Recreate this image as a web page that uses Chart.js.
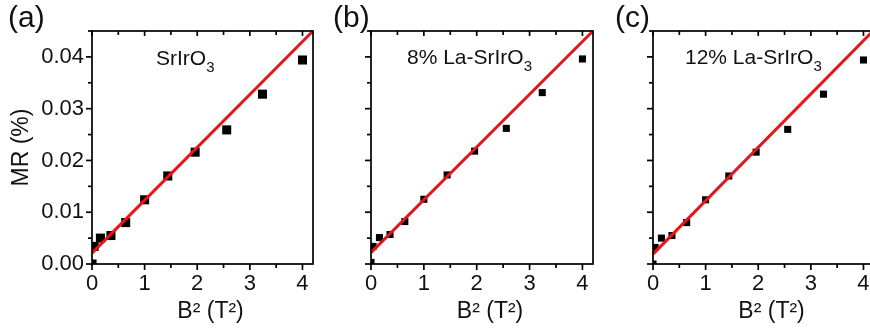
<!DOCTYPE html>
<html>
<head>
<meta charset="utf-8">
<script src="https://cdn.jsdelivr.net/npm/chart.js@4.4.1/dist/chart.umd.min.js"></script>
<style>
html,body{margin:0;padding:0;background:#fff;width:870px;height:332px;overflow:hidden;}
body{position:relative;font-family:"Liberation Sans",Arial,sans-serif;color:#111;}
.panel{position:absolute;top:0;height:332px;}
.lbl{position:absolute;font-size:30px;line-height:30px;white-space:nowrap;}
.ann{position:absolute;font-size:21px;line-height:21px;white-space:nowrap;}
.ann sub{font-size:15px;vertical-align:-7px;line-height:0;}
</style>
</head>
<body>
<div class="panel" style="left:0;width:330px"><canvas id="ca"></canvas></div>
<div class="panel" style="left:330px;width:280px"><canvas id="cb"></canvas></div>
<div class="panel" style="left:610px;width:281px"><canvas id="cc"></canvas></div>
<div class="lbl" style="left:8px;top:2px">(a)</div>
<div class="lbl" style="left:333px;top:2px">(b)</div>
<div class="lbl" style="left:615px;top:2px">(c)</div>
<div class="ann" style="left:156px;top:47px">SrIrO<sub>3</sub></div>
<div class="ann" style="left:407px;top:46px">8% La-SrIrO<sub>3</sub></div>
<div class="ann" style="left:685px;top:46px">12% La-SrIrO<sub>3</sub></div>
<script>
// ---- data ----
const xB2 = [0, 0.04, 0.16, 0.36, 0.64, 1.0, 1.44, 1.96, 2.56, 3.24, 4.0];
const mrA = [0.0000, 0.0034, 0.0050, 0.0055, 0.0080, 0.0124, 0.0170, 0.0216, 0.0259, 0.0328, 0.0394];
const mrB = [0.0003, 0.0034, 0.0051, 0.0057, 0.0082, 0.0125, 0.0172, 0.0218, 0.0262, 0.0331, 0.0396];
const mrC = [0.0000, 0.0032, 0.0050, 0.0055, 0.0080, 0.0124, 0.0170, 0.0216, 0.0260, 0.0328, 0.0394];
const fitX = [0, 4.2];
const fitA = [0.0021, 0.0450];
const fitB = [0.0022, 0.0450];
const fitC = [0.0019, 0.0452];
const xTicks = [0, 1, 2, 3, 4];
const xTickLabels = ['0', '1', '2', '3', '4'];
const yTicks = [0, 0.01, 0.02, 0.03, 0.04];
const yTickLabels = ['0.00', '0.01', '0.02', '0.03', '0.04'];
const xTitle = '\u2002\u2009B\u00B2 (T\u00B2)';
const yTitle = 'MR (%)';

const FONT = '"Liberation Sans", Arial, sans-serif';
const INK = '#111';

function midpoints(arr, max) {
  const out = [];
  for (let i = 0; i < arr.length; i++) {
    const step = i < arr.length - 1 ? arr[i + 1] - arr[i] : arr[i] - arr[i - 1];
    const m = arr[i] + step / 2;
    if (m <= max + 1e-9) out.push(m);
  }
  return out;
}

const framePlugin = {
  id: 'frame',
  afterDraw(chart) {
    const {ctx, chartArea: {left, right, top, bottom}, scales: {x, y}} = chart;
    ctx.save();
    ctx.strokeStyle = '#000';
    ctx.lineWidth = 1.7;
    ctx.lineCap = 'butt';
    const seg = (x1, y1, x2, y2) => { ctx.beginPath(); ctx.moveTo(x1, y1); ctx.lineTo(x2, y2); ctx.stroke(); };
    ctx.strokeRect(left, top, right - left, bottom - top);
    xTicks.forEach(v => { const p = x.getPixelForValue(v); seg(p, bottom, p, bottom + 6); seg(p, top, p, top + 5); });
    midpoints(xTicks, x.max).forEach(v => { const p = x.getPixelForValue(v); seg(p, bottom, p, bottom + 4); seg(p, top, p, top + 4); });
    yTicks.forEach(v => { const p = y.getPixelForValue(v); seg(left - 6, p, left, p); });
    midpoints(yTicks, y.max).forEach(v => { const p = y.getPixelForValue(v); seg(left - 4, p, left, p); });
    ctx.restore();
  }
};

function makeChart(id, mr, fit, showY, yWidth, ptR) {
  const pts = xB2.map((v, i) => ({x: v, y: mr[i]}));
  const line = fitX.map((v, i) => ({x: v, y: fit[i]}));
  return new Chart(document.getElementById(id), {
    type: 'scatter',
    data: {
      datasets: [
        {data: line, showLine: true, borderColor: '#e3161c', borderWidth: 3, pointRadius: 0, order: 0, clip: 2},
        {data: pts, pointStyle: 'rect', pointRadius: ptR, backgroundColor: '#000', borderColor: '#000', borderWidth: 0, order: 1, clip: 0}
      ]
    },
    options: {
      responsive: true,
      maintainAspectRatio: false,
      animation: false,
      events: [],
      layout: {padding: {top: 31, right: 17, left: 0, bottom: 0}},
      plugins: {legend: {display: false}, tooltip: {enabled: false}},
      scales: {
        x: {
          type: 'linear', min: 0, max: 4.2,
          afterBuildTicks: s => { s.ticks = xTicks.map(v => ({value: v})); },
          afterFit: s => { s.height = 68; },
          grid: {display: false, drawTicks: false},
          border: {display: false},
          ticks: {padding: 7, color: INK, font: {family: FONT, size: 22}, maxRotation: 0,
                  callback: (v) => xTickLabels[xTicks.indexOf(v)]},
          title: {display: true, text: xTitle, color: INK, font: {family: FONT, size: 23}, padding: {top: 0, bottom: 7}}
        },
        y: {
          type: 'linear', min: 0, max: 0.045,
          afterBuildTicks: s => { s.ticks = yTicks.map(v => ({value: v})); },
          afterFit: s => { s.width = yWidth; },
          grid: {display: false, drawTicks: false},
          border: {display: false},
          ticks: {display: showY, padding: 8, color: INK, font: {family: FONT, size: 22},
                  callback: (v) => yTickLabels[yTicks.indexOf(v)]},
          title: {display: showY, text: yTitle, color: INK, font: {family: FONT, size: 23}, padding: {top: 8, bottom: 0}}
        }
      }
    },
    plugins: [framePlugin]
  });
}

makeChart('ca', mrA, fitA, true, 92, 6.4);
makeChart('cb', mrB, fitB, false, 41, 5);
makeChart('cc', mrC, fitC, false, 43, 5);
</script>
</body>
</html>
